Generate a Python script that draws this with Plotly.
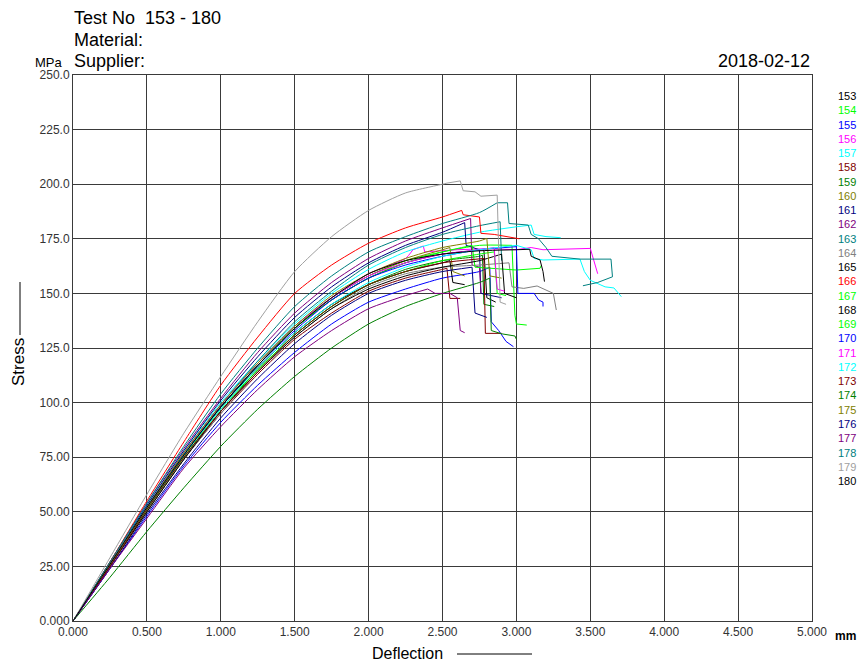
import plotly.graph_objects as go

# deflection grid (mm) for the rising part of every test curve
DEFL_GRID = [0, 0.25, 0.5, 0.75, 1.0, 1.25, 1.5, 1.75, 2.0, 2.25, 2.5, 2.75]

TEST_NO = [str(n) for n in range(153, 181)]
COLORS = [
    "#000000", "#00ff00", "#0000ff", "#ff00ff", "#00ffff", "#800000", "#008000",
    "#808000", "#000080", "#800080", "#008080", "#808080", "#000000", "#ff0000",
    "#00ff00", "#000000", "#00ff00", "#0000ff", "#ff00ff", "#00ffff", "#800000",
    "#008000", "#808000", "#000080", "#800080", "#008080", "#a0a0a0", "#000000",
]

# stress (MPa) read at DEFL_GRID, up to just before the peak
RISE_Y = [
    [0, 26, 52, 76, 98, 117, 134, 147, 157, 164, 168],            # 153
    [0, 26, 52, 77, 99, 118, 135, 148, 158, 165, 169, 172],       # 154
    [0, 24, 48, 71, 91, 108, 123, 136, 146, 152, 157, 160],       # 155
    [0, 26, 52, 76, 98, 117, 134, 148, 159, 166],                 # 156
    [0, 27, 53, 78, 100, 119, 136, 150, 161, 169, 174, 178],      # 157
    [0, 25, 50, 74, 95, 113, 129, 141, 151, 157, 161],            # 158
    [0, 25, 51, 75, 96, 115, 131, 144, 154, 161, 165, 167],       # 159
    [0, 26, 52, 76, 98, 117, 134, 148, 158, 165, 170],            # 160
    [0, 26, 53, 78, 101, 121, 139, 153, 164, 172, 178],           # 161
    [0, 27, 54, 79, 102, 123, 141, 155, 166, 174, 180],           # 162
    [0, 26, 52, 77, 99, 119, 137, 151, 163, 171, 177, 181],       # 163
    [0, 25, 50, 74, 95, 114, 130, 143, 153, 159, 162, 163],       # 164
    [0, 26, 52, 76, 98, 116, 132, 145, 154, 160, 164],            # 165
    [0, 27, 55, 82, 108, 130, 150, 163, 173, 180, 185],           # 166
    [0, 26, 52, 76, 98, 117, 134, 147, 157, 164, 169],            # 167
    [0, 25, 50, 74, 96, 114, 130, 143, 152, 158, 162, 165],       # 168
    [0, 26, 51, 75, 97, 115, 131, 144, 154, 160, 165, 168],       # 169
    [0, 26, 52, 76, 98, 117, 133, 147, 157, 163, 167, 170],       # 170
    [0, 26, 52, 77, 99, 118, 135, 148, 158, 164, 168, 170],       # 171
    [0, 26, 52, 76, 97, 116, 132, 145, 155, 162, 167, 170],       # 172
    [0, 25, 51, 75, 96, 114, 131, 144, 154, 160, 164],            # 173
    [0, 20, 41, 61, 80, 97, 112, 125, 136, 144, 150, 155],        # 174
    [0, 26, 52, 77, 99, 118, 135, 149, 159, 166, 171, 174],       # 175
    [0, 24, 49, 72, 93, 111, 127, 140, 150, 156, 160],            # 176
    [0, 24, 47, 70, 89, 106, 121, 133, 143, 149],                 # 177
    [0, 27, 54, 80, 104, 125, 144, 158, 169, 176, 182, 187],      # 178
    [0, 29, 58, 86, 112, 137, 160, 176, 188, 196, 200],           # 179
    [0, 26, 52, 76, 98, 117, 134, 148, 159, 165, 168, 169.5],     # 180
]

# peak and failure part of every curve (first point = peak)
TAIL_X = [
    [2.78, 2.8, 2.86],
    [2.97, 2.99, 3.0, 3.07],
    [2.82, 2.83, 2.88, 2.93, 2.98],
    [2.3, 2.37, 2.38, 2.6, 2.8, 3.0, 3.1, 3.18, 3.5, 3.52, 3.55],
    [3.0, 3.1, 3.12, 3.2, 3.3],
    [2.53, 2.55, 2.62],
    [2.77, 2.78, 2.85],
    [2.55, 2.57, 2.65],
    [2.65, 2.66, 2.75, 2.76, 2.9],
    [2.69, 2.7, 2.75, 2.76],
    [2.89, 2.9],
    [2.95, 2.97, 3.05, 3.14, 3.25, 3.27],
    [2.55, 2.57, 2.65],
    [2.63, 2.64, 2.75, 2.76, 2.85, 3.0, 3.02],
    [2.7, 2.72, 3.0, 3.16, 3.17],
    [2.9, 2.92, 3.0],
    [2.85, 2.87, 2.93],
    [3.0, 3.01, 3.12, 3.15, 3.18, 3.18],
    [2.85, 2.87, 2.92],
    [3.0, 3.1, 3.12, 3.18, 3.43, 3.46, 3.5, 3.6, 3.66, 3.69, 3.71],
    [2.78, 2.79, 2.9],
    [2.82, 2.83, 2.9, 2.99, 3.0],
    [2.8, 2.82, 2.9],
    [2.7, 2.72, 2.8],
    [2.4, 2.45, 2.55, 2.6, 2.62, 2.65],
    [2.87, 2.94, 2.95, 3.08, 3.1, 3.15, 3.2, 3.24, 3.43, 3.64, 3.65, 3.55, 3.45],
    [2.53, 2.62, 2.64, 2.72, 2.76, 2.87, 2.89, 2.93],
    [3.0, 3.09, 3.1, 3.16, 3.18, 3.19],
]
TAIL_Y = [
    [170, 148, 146],
    [172, 140, 136, 135.5],
    [162, 137, 133, 128, 125.6],
    [170, 171.7, 169, 170, 170.5, 170, 171, 170, 170.6, 166, 159],
    [180.5, 181.3, 177, 176, 175.5],
    [161.5, 147.7, 147.7],
    [167.5, 145, 144],
    [171, 160, 158],
    [182.4, 172, 170, 150, 148],
    [184.3, 163, 162, 150],
    [182.8, 165],
    [164, 153, 152.3, 153.4, 150, 142.4],
    [165, 155, 154],
    [188, 186, 185, 177.5, 177, 175.5, 175],
    [172, 162, 160.7, 161.5, 163],
    [168, 150, 148],
    [169, 150, 149],
    [171.4, 150, 150, 147, 146, 144],
    [171, 152, 151],
    [172, 170, 166, 165.3, 165.7, 160, 156, 153, 152.5, 150, 148.5],
    [166, 131.7, 131.7],
    [157, 133, 131.5, 130.5, 129],
    [175.2, 158, 157],
    [162, 141, 139],
    [152, 150, 150, 148, 133, 132],
    [191.5, 191.5, 182, 181.3, 177, 175, 171, 167, 165.7, 165.7, 157.6, 155, 153.5],
    [200.5, 201.5, 197, 196.5, 194.5, 195, 146, 145],
    [170, 170.2, 167, 165.3, 160, 155.4],
]

X_TICKS = [0, 0.5, 1.0, 1.5, 2.0, 2.5, 3.0, 3.5, 4.0, 4.5, 5.0]
X_TICK_TEXT = ["0.000", "0.500", "1.000", "1.500", "2.000", "2.500",
               "3.000", "3.500", "4.000", "4.500", "5.000"]
Y_TICKS = [0, 25, 50, 75, 100, 125, 150, 175, 200, 225, 250]
Y_TICK_TEXT = ["0.000", "25.00", "50.00", "75.00", "100.0", "125.0",
               "150.0", "175.0", "200.0", "225.0", "250.0"]

FONT = "Liberation Sans, Arial, sans-serif"
GRID = "#3a3a3a"

# page pixels of the plot area; the page body adds an 8px offset to the figure
PX0, PX1, PY0, PY1 = 73, 812, 75, 621
BODY = 8
FIG_W, FIG_H = 865 - BODY, 663 - BODY


def px(x):
    return (x - PX0) / (PX1 - PX0)


def py(y):
    return (PY1 - y) / (PY1 - PY0)


fig = go.Figure()
for i, label in enumerate(TEST_NO):
    ys = RISE_Y[i]
    xs = DEFL_GRID[:len(ys)] + [TAIL_X[i][0]]
    fig.add_trace(go.Scatter(
        x=xs, y=ys + [TAIL_Y[i][0]], mode="lines", name=label,
        line=dict(color=COLORS[i], width=1, shape="spline", smoothing=0.6),
        showlegend=False, hoverinfo="skip",
    ))
    fig.add_trace(go.Scatter(
        x=TAIL_X[i], y=TAIL_Y[i], mode="lines", name=label,
        line=dict(color=COLORS[i], width=1),
        showlegend=False, hoverinfo="skip",
    ))

# colored test numbers down the right-hand side
annotations = []
for i, label in enumerate(TEST_NO):
    annotations.append(dict(
        text=label, xref="paper", yref="paper",
        x=px(836), y=py(96 + i * 14.26), xanchor="left", yanchor="middle",
        showarrow=False, font=dict(family=FONT, size=11, color=COLORS[i]),
    ))

header = [
    ("Test No&nbsp;&nbsp;153 - 180", 72, 18, "left", 18),
    ("Material:", 72, 40, "left", 18),
    ("Supplier:", 72, 61, "left", 18),
    ("2018-02-12", 812, 61, "right", 18),
    ("MPa", 33, 62, "left", 13),
    ("<b>mm</b>", 833, 636, "left", 12),
    ("Deflection", 407, 653, "center", 16),
]
for text, x, y, anchor, size in header:
    annotations.append(dict(
        text=text, xref="paper", yref="paper",
        x=px(x), y=py(y), xanchor=anchor, yanchor="middle",
        showarrow=False, font=dict(family=FONT, size=size, color="#000000"),
    ))
annotations.append(dict(
    text="Stress", xref="paper", yref="paper", textangle=-90,
    x=px(18), y=py(362), xanchor="center", yanchor="middle",
    showarrow=False, font=dict(family=FONT, size=17, color="#000000"),
))

shapes = [
    dict(type="line", xref="paper", yref="paper",
         x0=px(457), x1=px(532), y0=py(654), y1=py(654),
         line=dict(color="#000000", width=1)),
    dict(type="line", xref="paper", yref="paper",
         x0=px(20), x1=px(20), y0=py(282), y1=py(335),
         line=dict(color="#000000", width=1)),
]

fig.update_layout(
    width=FIG_W, height=FIG_H,
    margin=dict(l=PX0 - BODY, r=FIG_W - (PX1 - BODY), t=PY0 - BODY, b=FIG_H - (PY1 - BODY)),
    paper_bgcolor="white", plot_bgcolor="white",
    font=dict(family=FONT, size=12, color="#333333"),
    showlegend=False,
    annotations=annotations, shapes=shapes,
    xaxis=dict(
        range=[0, 5], tickvals=X_TICKS, ticktext=X_TICK_TEXT,
        showgrid=True, gridcolor=GRID, gridwidth=1, zeroline=False,
        showline=True, linecolor=GRID, mirror=True, ticks="",
        tickfont=dict(size=12, color="#333333"),
    ),
    yaxis=dict(
        range=[0, 250], tickvals=Y_TICKS, ticktext=Y_TICK_TEXT,
        showgrid=True, gridcolor=GRID, gridwidth=1, zeroline=False,
        showline=True, linecolor=GRID, mirror=True, ticks="",
        tickfont=dict(size=12, color="#333333"),
    ),
)

fig.write_html("out.html")
